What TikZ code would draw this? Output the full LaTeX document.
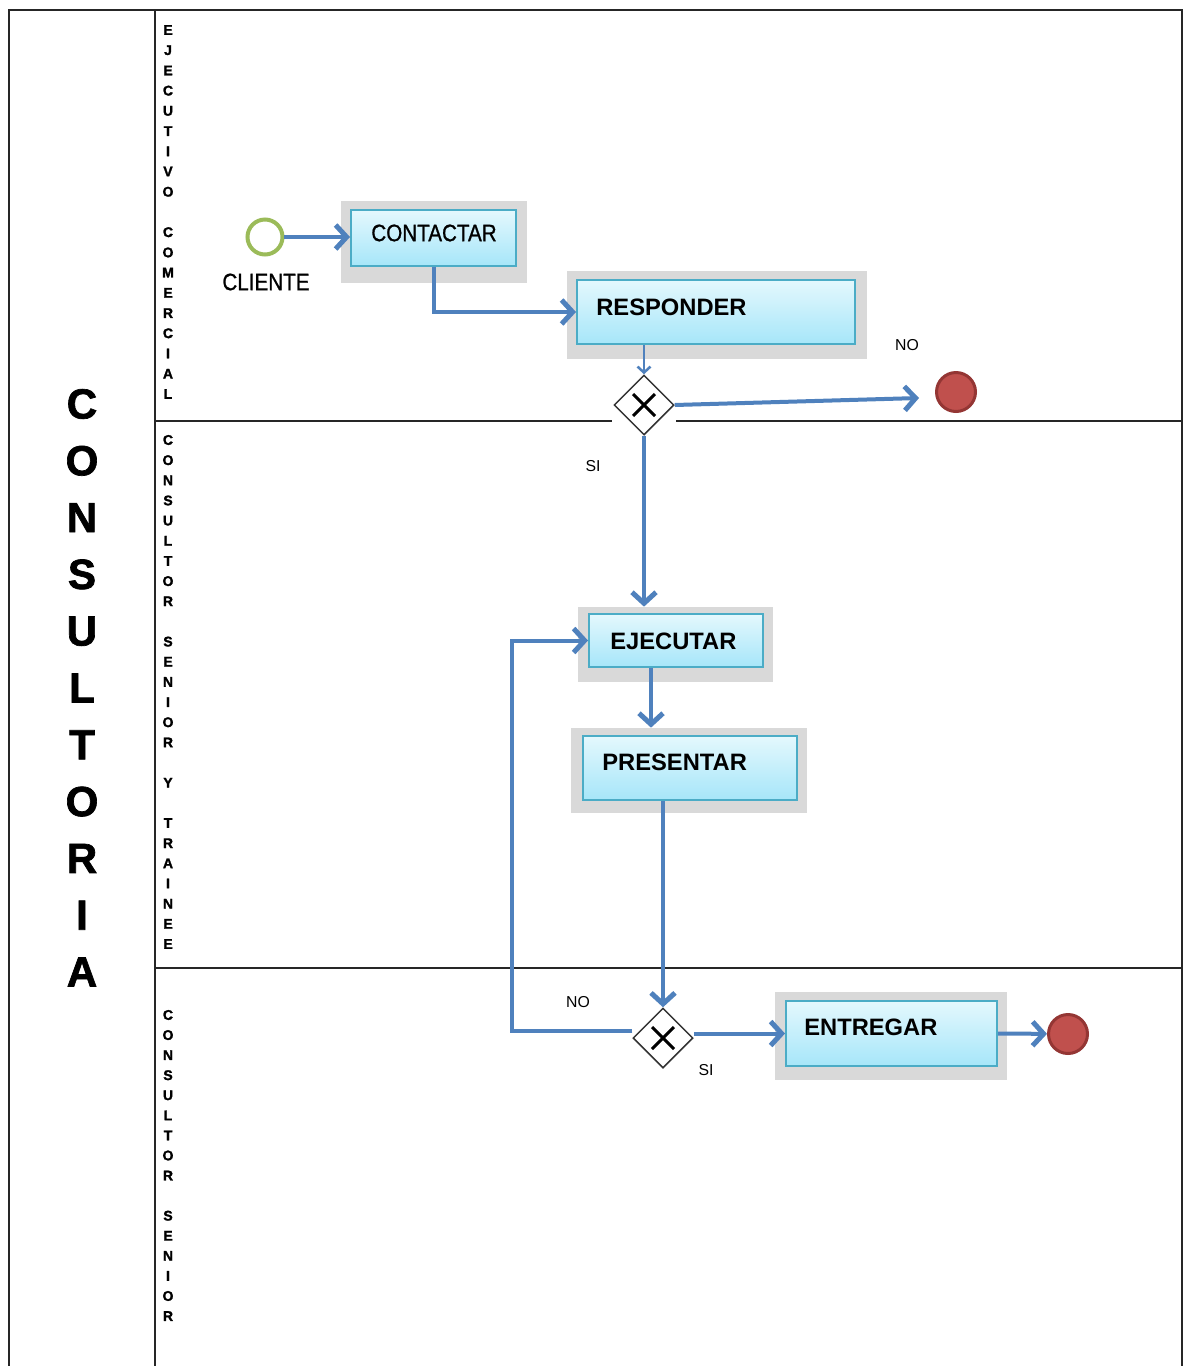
\documentclass[tikz,border=0pt]{standalone}
\usepackage{fontspec}
\setmainfont{Liberation Sans}
\newfontfamily\narrowfont{Liberation Sans}[FakeStretch=0.87, FakeBold=0.9]
\newfontfamily\heavyfont{Liberation Sans Bold}[FakeBold=1.6]
\usetikzlibrary{arrows.meta,shapes.geometric,fit,calc}
\definecolor{flowblue}{HTML}{4F81BD}
\definecolor{taskedge}{HTML}{4BACC6}
\definecolor{tasktop}{HTML}{E4F8FD}
\definecolor{taskbottom}{HTML}{A6E6F9}
\definecolor{halo}{HTML}{D9D9D9}
\definecolor{startgreen}{HTML}{9BBB59}
\definecolor{endfill}{HTML}{C0504D}
\definecolor{endedge}{HTML}{943634}

\begin{document}
\begin{tikzpicture}[x=0.02cm, y=-0.02cm,
  frameline/.style={draw=black!85, line width=0.05cm},
  laneline/.style={draw=black!85, line width=0.03cm},
  flow/.style={draw=flowblue, line width=0.08cm, -{Straight Barb[length=0.22cm, width=0.48cm, line width=0.1cm]}},
  thinflow/.style={draw=flowblue, line width=0.05cm, -{Straight Barb[length=0.12cm, width=0.26cm]}},
  backdrop/.style={fill=halo, draw=none, inner sep=0pt},
  taskbox/.style={draw=taskedge, line width=0.04cm, top color=tasktop, bottom color=taskbottom, inner sep=0pt},
  tasktext/.style={anchor=west, inner sep=0pt, font=\fontsize{13.5}{16}\selectfont\bfseries},
  tasktextlight/.style={anchor=west, inner sep=0pt, font=\narrowfont\fontsize{13.5}{16}\selectfont},
  smalllabel/.style={inner sep=0pt, font=\fontsize{9}{10}\selectfont},
  lanechar/.style={inner sep=0pt, font=\heavyfont\fontsize{8}{8}\selectfont},
  bigchar/.style={inner sep=0pt, font=\heavyfont\fontsize{24}{24}\selectfont},
  startevent/.style={circle, draw=startgreen, line width=0.08cm, fill=white, minimum size=0.7cm, inner sep=0pt},
  endevent/.style={circle, draw=endedge, fill=endfill, line width=0.06cm, minimum size=0.78cm, inner sep=0pt},
  gateway/.style={diamond, draw=black!80, fill=white, line width=0.03cm,
    minimum width=1.2cm, minimum height=1.2cm, inner sep=0pt,
    path picture={\draw[line width=0.06cm, black]
      ([shift={(-0.22cm,-0.22cm)}]path picture bounding box.center) -- ([shift={(0.22cm,0.22cm)}]path picture bounding box.center)
      ([shift={(-0.22cm,0.22cm)}]path picture bounding box.center) -- ([shift={(0.22cm,-0.22cm)}]path picture bounding box.center);}}
]
\useasboundingbox (0,0) rectangle (1183,1366);
\fill[white] (0,0) rectangle (1183,1366);

% pool frame and lanes
\draw[frameline] (9,1366) -- (9,10) -- (1182,10) -- (1182,1366);
\draw[frameline] (155,10) -- (155,1366);
\draw[laneline] (155,421) -- (612,421) (676,421) -- (1182,421);
\draw[laneline] (155,968) -- (1182,968);

% pool title
\foreach \ch [count=\i from 0] in {C,O,N,S,U,L,T,O,R,I,A}
  \node[bigchar] (pool-\i) at (82,{404+56.8*\i}) {\ch};

% lane titles
\foreach \ch [count=\i from 0] in {E,J,E,C,U,T,I,V,O,{},C,O,M,E,R,C,I,A,L}
  \node[lanechar] (laneA-\i) at (168,{30+20.22*\i}) {\ch};
\foreach \ch [count=\i from 0] in {C,O,N,S,U,L,T,O,R,{},S,E,N,I,O,R,{},Y,{},T,R,A,I,N,E,E}
  \node[lanechar] (laneB-\i) at (168,{440+20.16*\i}) {\ch};
\foreach \ch [count=\i from 0] in {C,O,N,S,U,L,T,O,R,{},S,E,N,I,O,R}
  \node[lanechar] (laneC-\i) at (168,{1015+20.07*\i}) {\ch};

% tasks
\node[backdrop, fit={(341,201)(527,283)}] (contactarbg) {};
\node[taskbox, fit={(351,210)(516,266)}] (contactar) {};
\node[tasktextlight] (contactarlbl) at (371,233) {CONTACTAR};

\node[backdrop, fit={(567,271)(867,359)}] (responderbg) {};
\node[taskbox, fit={(577,280)(855,344)}] (responder) {};
\node[tasktext] (responderlbl) at (596,307) {RESPONDER};

\node[backdrop, fit={(578,607)(773,682)}] (ejecutarbg) {};
\node[taskbox, fit={(589,614)(763,667)}] (ejecutar) {};
\node[tasktext] (ejecutarlbl) at (610,641) {EJECUTAR};

\node[backdrop, fit={(571,728)(807,813)}] (presentarbg) {};
\node[taskbox, fit={(583,736)(797,800)}] (presentar) {};
\node[tasktext] (presentarlbl) at (602,762) {PRESENTAR};

\node[backdrop, fit={(775,992)(1007,1080)}] (entregarbg) {};
\node[taskbox, fit={(786,1001)(997,1066)}] (entregar) {};
\node[tasktext] (entregarlbl) at (804,1027) {ENTREGAR};

% events and gateways
\node[startevent] (inicio) at (265,237) {};
\node[tasktextlight, anchor=center] (cliente) at (266,282) {CLIENTE};
\node[endevent] (finno) at (956,392) {};
\node[endevent] (fin) at (1068,1034) {};
\node[gateway] (gw1) at (644,405) {};
\node[gateway] (gw2) at (663,1038) {};

% sequence flows
\draw[flow] (inicio) -- (inicio -| contactar.west);
\draw[flow] (contactar.south) |- (responder.west);
\draw[thinflow] (gw1 |- responder.south) -- (gw1.north);
\draw[flow] (gw1.east) -- ([shift={(-16,6)}]finno.west);
\node[smalllabel] (nolbl1) at (907,345) {NO};
\draw[flow] (gw1.south) -- (gw1 |- ejecutarbg.north);
\node[smalllabel] (silbl1) at (593,466) {SI};
\draw[flow] ([xshift=-0.5cm]ejecutar.south) -- ([xshift=-0.5cm]ejecutar.south |- presentarbg.north);
\draw[flow] (gw2 |- presentar.south) -- (gw2.north);
\coordinate (retorno) at (512,1031);
\draw[flow] (gw2.west |- retorno) -- (retorno) |- (ejecutar.west);
\node[smalllabel] (nolbl2) at (578,1002) {NO};
\draw[flow] (gw2.east |- entregar.west) -- (entregar.west);
\node[smalllabel] (silbl2) at (706,1070) {SI};
\draw[flow] (entregar.east) -- (fin);
\end{tikzpicture}
\end{document}
